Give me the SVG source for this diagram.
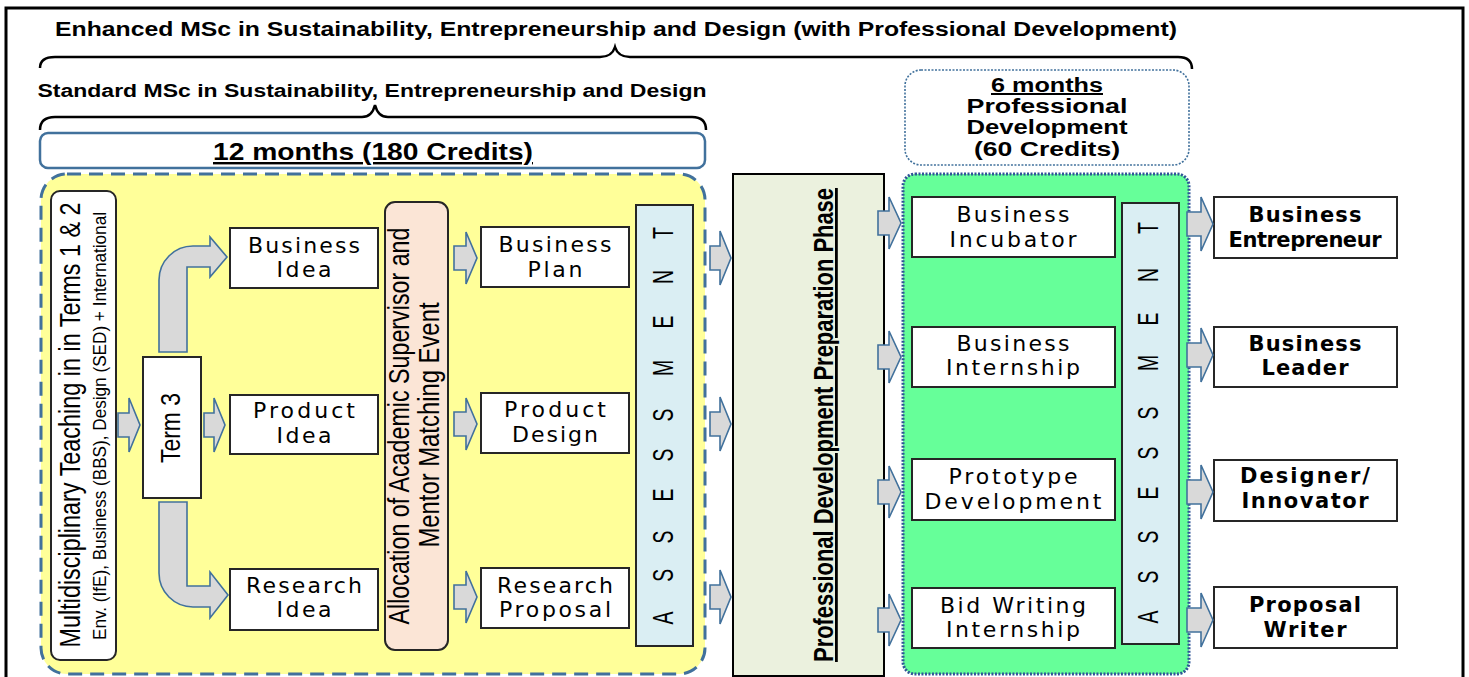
<svg xmlns="http://www.w3.org/2000/svg" width="1469" height="677" viewBox="0 0 1469 677">
<style>
.box{fill:#fff;stroke:#262626;stroke-width:2}
.arr{fill:#d9d9d9;stroke:#41719c;stroke-width:1.6}
.t{font-family:"DejaVu Sans",Verdana,sans-serif;font-size:22px;text-anchor:middle;fill:#000}
.tb{font-family:"DejaVu Sans",Verdana,sans-serif;font-size:21px;font-weight:bold;text-anchor:middle;fill:#000}
.h{font-family:"Liberation Sans",Arial,sans-serif;font-weight:bold;text-anchor:middle;fill:#000}
.r{font-family:"Liberation Sans",Arial,sans-serif;text-anchor:middle;fill:#000}
.brace{fill:none;stroke:#000;stroke-width:2.5}
</style>

<rect x="6" y="8" width="1457" height="700" fill="#fff" stroke="#000" stroke-width="3"/>

<g id="headings">
<text class="h" x="616" y="36" font-size="20" textLength="1122" lengthAdjust="spacingAndGlyphs">Enhanced MSc in Sustainability, Entrepreneurship and Design (with Professional Development)</text>
<path class="brace" d="M40,68 Q40,57 55,57 L600,57 Q612,57 615,47 Q618,57 630,57 L1178,57 Q1192,57 1192,69"/>
<text class="h" x="372" y="97" font-size="18" textLength="669" lengthAdjust="spacingAndGlyphs">Standard MSc in Sustainability, Entrepreneurship and Design</text>
<path class="brace" d="M40,130 Q40,117 55,117 L362,117 Q372,117 375,105 Q378,117 388,117 L692,117 Q706,117 706,130"/>
</g>

<g id="months12">
<rect x="40" y="133" width="665" height="35" rx="8" fill="#fff" stroke="#41719c" stroke-width="2.5"/>
<text class="h" x="373" y="160" font-size="24" textLength="320" lengthAdjust="spacingAndGlyphs" text-decoration="underline">12 months (180 Credits)</text>
</g>

<g id="months6">
<rect x="905" y="70" width="284" height="95" rx="16" fill="#fff" stroke="#41719c" stroke-width="1.6" stroke-dasharray="2 1.5"/>
<text class="h" x="1047" y="92" font-size="20" textLength="112" lengthAdjust="spacingAndGlyphs" text-decoration="underline">6 months</text>
<text class="h" x="1047" y="113" font-size="20" textLength="161" lengthAdjust="spacingAndGlyphs">Professional</text>
<text class="h" x="1047" y="134" font-size="20" textLength="161" lengthAdjust="spacingAndGlyphs">Development</text>
<text class="h" x="1047" y="156" font-size="20" textLength="146" lengthAdjust="spacingAndGlyphs">(60 Credits)</text>
</g>

<g id="standard-region">
<rect x="41" y="174" width="664" height="500" rx="26" fill="#ffff99" stroke="#41719c" stroke-width="3" stroke-dasharray="14 8"/>
</g>

<g id="multidisciplinary">
<rect x="51" y="191" width="65" height="469" rx="9" class="box"/>
<text class="r" transform="translate(80,425) rotate(-90)" font-size="30" textLength="445" lengthAdjust="spacingAndGlyphs">Multidisciplinary Teaching in in Terms 1 &amp; 2</text>
<text class="r" transform="translate(106,426) rotate(-90)" font-size="18" textLength="428" lengthAdjust="spacingAndGlyphs">Env. (IfE), Business (BBS), Design (SED) + International</text>
</g>

<g id="term3">
<rect x="143" y="357" width="58" height="141" class="box"/>
<text class="r" transform="translate(180,428) rotate(-90)" font-size="28" textLength="70" lengthAdjust="spacingAndGlyphs">Term 3</text>
</g>

<g id="business-idea">
<rect x="230" y="228" width="148" height="60" class="box"/>
<text class="t" x="304" y="253" textLength="112">Business</text>
<text class="t" x="304" y="277" textLength="55">Idea</text>
</g>
<g id="product-idea">
<rect x="230" y="395" width="148" height="59" class="box"/>
<text class="t" x="304" y="418" textLength="102">Product</text>
<text class="t" x="304" y="443" textLength="55">Idea</text>
</g>
<g id="research-idea">
<rect x="230" y="569" width="148" height="61" class="box"/>
<text class="t" x="304" y="593" textLength="116">Research</text>
<text class="t" x="304" y="617" textLength="55">Idea</text>
</g>

<g id="allocation">
<rect x="385" y="202" width="63" height="448" rx="10" fill="#fbe5d6" stroke="#262626" stroke-width="2"/>
<text class="r" transform="translate(409,426) rotate(-90)" font-size="29" textLength="397" lengthAdjust="spacingAndGlyphs">Allocation of Academic Supervisor and</text>
<text class="r" transform="translate(439,425) rotate(-90)" font-size="29" textLength="245" lengthAdjust="spacingAndGlyphs">Mentor Matching Event</text>
</g>

<g id="business-plan">
<rect x="481" y="227" width="148" height="60" class="box"/>
<text class="t" x="555" y="252" textLength="113">Business</text>
<text class="t" x="555" y="277" textLength="55">Plan</text>
</g>
<g id="product-design">
<rect x="481" y="393" width="148" height="60" class="box"/>
<text class="t" x="555" y="417" textLength="102">Product</text>
<text class="t" x="555" y="442" textLength="86">Design</text>
</g>
<g id="research-proposal">
<rect x="481" y="568" width="148" height="60" class="box"/>
<text class="t" x="555" y="593" textLength="116">Research</text>
<text class="t" x="555" y="617" textLength="112">Proposal</text>
</g>

<g id="assessment-1">
<rect x="636" y="205" width="57" height="441" fill="#daeef3" stroke="#262626" stroke-width="2"/>
<text class="r" font-size="29" transform="translate(673,0) rotate(-90) scale(0.67,1)" x="-922.4 -858.5 -801.5 -738.8 -679.1 -619.4 -549.3 -480.6 -413.4 -347.8">ASSESSMENT</text>
</g>

<g id="pd-preparation">
<rect x="733" y="174" width="151" height="502" fill="#ebf1de" stroke="#000" stroke-width="2"/>
<text class="h" transform="translate(833,425) rotate(-90)" font-size="28" textLength="474" lengthAdjust="spacingAndGlyphs" text-decoration="underline">Professional Development Preparation Phase</text>
</g>

<g id="pd-region">
<rect x="903" y="174" width="286" height="500" rx="12" fill="#66ff99" stroke="#2f5597" stroke-width="3" stroke-dasharray="2 1.5"/>
</g>

<g id="business-incubator">
<rect x="912" y="197" width="203" height="60" class="box"/>
<text class="t" x="1013" y="222" textLength="113">Business</text>
<text class="t" x="1013" y="247" textLength="127">Incubator</text>
</g>
<g id="business-internship">
<rect x="912" y="327" width="203" height="60" class="box"/>
<text class="t" x="1013" y="351" textLength="113">Business</text>
<text class="t" x="1013" y="375" textLength="134">Internship</text>
</g>
<g id="prototype-development">
<rect x="912" y="459" width="203" height="61" class="box"/>
<text class="t" x="1013" y="484" textLength="129">Prototype</text>
<text class="t" x="1013" y="509" textLength="177">Development</text>
</g>
<g id="bid-writing-internship">
<rect x="912" y="588" width="203" height="60" class="box"/>
<text class="t" x="1013" y="613" textLength="146">Bid Writing</text>
<text class="t" x="1013" y="637" textLength="134">Internship</text>
</g>

<g id="assessment-2">
<rect x="1122" y="203" width="57" height="441" fill="#daeef3" stroke="#262626" stroke-width="2"/>
<text class="r" font-size="29" transform="translate(1158,0) rotate(-90) scale(0.67,1)" x="-920.9 -861.2 -801.5 -735.8 -676.1 -616.4 -541.8 -476.1 -410.4 -340.3">ASSESSMENT</text>
</g>

<g id="business-entrepreneur">
<rect x="1214" y="197" width="183" height="61" class="box"/>
<text class="tb" x="1305" y="222" textLength="113">Business</text>
<text class="tb" x="1305" y="247" font-size="17" textLength="153">Entrepreneur</text>
</g>
<g id="business-leader">
<rect x="1214" y="327" width="183" height="60" class="box"/>
<text class="tb" x="1305" y="351" textLength="113">Business</text>
<text class="tb" x="1305" y="375" textLength="87">Leader</text>
</g>
<g id="designer-innovator">
<rect x="1214" y="460" width="183" height="61" class="box"/>
<text class="tb" x="1305" y="483" textLength="130">Designer/</text>
<text class="tb" x="1305" y="508" textLength="127">Innovator</text>
</g>
<g id="proposal-writer">
<rect x="1214" y="587" width="183" height="61" class="box"/>
<text class="tb" x="1305" y="612" textLength="112">Proposal</text>
<text class="tb" x="1305" y="637" textLength="83">Writer</text>
</g>

<g id="connectors">
<path class="arr" d="M118,413 L129,413 L129,398 L140,425 L129,452 L129,437 L118,437 Z"/>
<path class="arr" d="M204,413 L214,413 L214,398 L225,425 L214,452 L214,437 L204,437 Z"/>
<path class="arr" d="M187,352 L187,267 L210,267 L210,277 L227,257 L210,237 L210,246 L193,246 A34,34 0 0 0 159,280 L159,352 Z"/>
<path class="arr" d="M187,502 L187,586 L210,586 L210,572 L228,595 L210,618 L210,607 L193,607 A34,34 0 0 1 159,573 L159,502 Z"/>
<path class="arr" d="M454,246 L466,246 L466,232 L477,258 L466,284 L466,270 L454,270 Z"/>
<path class="arr" d="M454,412 L466,412 L466,398 L477,424 L466,450 L466,436 L454,436 Z"/>
<path class="arr" d="M454,585 L466,585 L466,571 L477,597 L466,623 L466,609 L454,609 Z"/>
<path class="arr" d="M710,246 L720,246 L720,231 L731,258 L720,285 L720,270 L710,270 Z"/>
<path class="arr" d="M710,412 L720,412 L720,397 L731,424 L720,451 L720,436 L710,436 Z"/>
<path class="arr" d="M710,585 L720,585 L720,570 L731,597 L720,624 L720,609 L710,609 Z"/>
<path class="arr" d="M878,211 L889,211 L889,197 L901,223 L889,249 L889,235 L878,235 Z"/>
<path class="arr" d="M878,345 L889,345 L889,331 L901,357 L889,383 L889,369 L878,369 Z"/>
<path class="arr" d="M878,480 L889,480 L889,466 L901,492 L889,518 L889,504 L878,504 Z"/>
<path class="arr" d="M878,608 L889,608 L889,594 L901,620 L889,646 L889,632 L878,632 Z"/>
<path class="arr" d="M1187,212 L1201,212 L1201,197 L1213,224 L1201,251 L1201,236 L1187,236 Z"/>
<path class="arr" d="M1187,343 L1201,343 L1201,328 L1213,355 L1201,382 L1201,367 L1187,367 Z"/>
<path class="arr" d="M1187,480 L1201,480 L1201,465 L1213,492 L1201,519 L1201,504 L1187,504 Z"/>
<path class="arr" d="M1187,608 L1201,608 L1201,593 L1213,620 L1201,647 L1201,632 L1187,632 Z"/>
</g>
</svg>
